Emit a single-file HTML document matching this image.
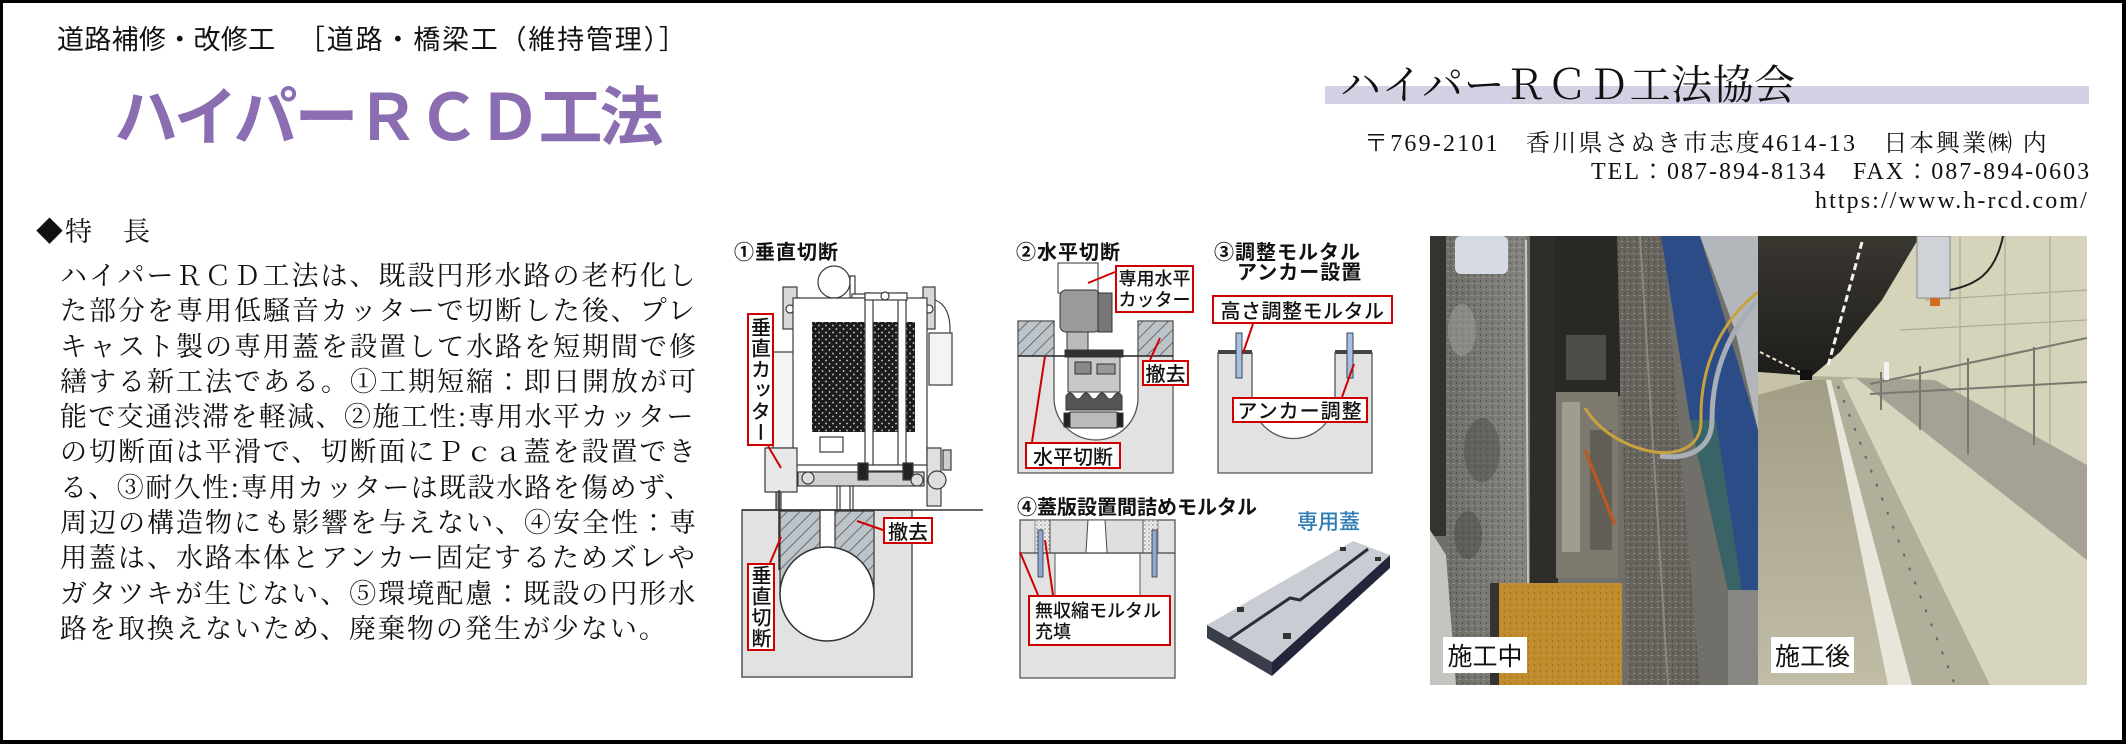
<!DOCTYPE html>
<html lang="ja">
<head>
<meta charset="utf-8">
<style>
  html,body{margin:0;padding:0;background:#fff;}
  #p{position:relative;width:2126px;height:744px;overflow:hidden;background:#fff;}
  .frame{position:absolute;left:0;top:0;width:2126px;height:744px;box-sizing:border-box;
    border-style:solid;border-color:#000;border-width:3px 4px 4px 3px;z-index:10;pointer-events:none;}
  .t{position:absolute;white-space:nowrap;line-height:1;}
  .goth{font-family:"Liberation Sans","Noto Sans CJK JP",sans-serif;}
  .min{font-family:"Liberation Serif","Noto Serif CJK SC",serif;}
  .lb{position:absolute;box-sizing:border-box;border:2px solid #d00000;background:#fff;
    font-family:"Noto Sans CJK JP","Liberation Sans",sans-serif;font-weight:500;color:#111;
    display:flex;align-items:center;justify-content:center;line-height:1;white-space:nowrap;z-index:3;}
  .vt{writing-mode:vertical-rl;}
  .hd{position:absolute;white-space:nowrap;line-height:1;font-family:"Noto Sans CJK JP","Liberation Sans",sans-serif;
    font-weight:700;font-size:20px;letter-spacing:1px;color:#111;z-index:3;}
  .body{position:absolute;left:60px;top:256px;font-family:"Noto Serif CJK SC","Liberation Serif",serif;
    font-size:27px;line-height:35.3px;letter-spacing:2px;color:#111;white-space:nowrap;}
  .ph{position:absolute;background:#fff;font-family:"Noto Sans CJK JP",sans-serif;font-size:25px;line-height:1;
    color:#111;display:flex;align-items:center;justify-content:center;z-index:3;}
</style>
</head>
<body>
<div id="p">

<!-- header left -->
<div class="t goth" style="left:57px;top:27px;font-size:27px;letter-spacing:0.3px;color:#111;">道路補修・改修工</div>
<div class="t goth" style="left:298px;top:27px;font-size:27px;letter-spacing:1.8px;color:#111;">［道路・橋梁工（維持管理）］</div>
<div class="t" style="left:114px;top:81px;font-family:'Noto Sans CJK JP',sans-serif;font-weight:700;font-size:64px;letter-spacing:-3px;color:#8b6db1;">ハイパーＲＣＤ工法</div>

<!-- header right -->
<div style="position:absolute;left:1325px;top:86px;width:764px;height:18px;background:#d4cfe3;"></div>
<div class="t" style="left:1340px;top:61px;font-family:'Noto Serif CJK SC',serif;font-size:41px;letter-spacing:0.5px;color:#111;">ハイパーＲＣＤ工法協会</div>
<div class="t min" style="left:1364px;top:132px;font-size:24px;letter-spacing:2.2px;color:#111;">〒769-2101　香川県さぬき市志度4614-13　日本興業㈱ 内</div>
<div class="t min" style="left:1591px;top:160px;font-size:24px;letter-spacing:2px;color:#111;">TEL：087-894-8134　FAX：087-894-0603</div>
<div class="t min" style="left:1815px;top:189px;font-size:24px;letter-spacing:2.1px;color:#111;">https://www.h-rcd.com/</div>

<!-- left body -->
<div class="t" style="left:36px;top:216px;font-family:'Noto Serif CJK SC',serif;font-size:27px;letter-spacing:2px;color:#111;">◆特　長</div>
<div class="body">
<div>ハイパーＲＣＤ工法は、既設円形水路の老朽化し</div>
<div>た部分を専用低騒音カッターで切断した後、プレ</div>
<div>キャスト製の専用蓋を設置して水路を短期間で修</div>
<div>繕する新工法である。①工期短縮：即日開放が可</div>
<div style="letter-spacing:1.4px;">能で交通渋滞を軽減、②施工性:専用水平カッター</div>
<div>の切断面は平滑で、切断面にＰｃａ蓋を設置でき</div>
<div style="letter-spacing:1.4px;">る、③耐久性:専用カッターは既設水路を傷めず、</div>
<div>周辺の構造物にも影響を与えない、④安全性：専</div>
<div>用蓋は、水路本体とアンカー固定するためズレや</div>
<div>ガタツキが生じない、⑤環境配慮：既設の円形水</div>
<div>路を取換えないため、廃棄物の発生が少ない。</div>
</div>

<!-- graphics -->
<svg width="2126" height="744" viewBox="0 0 2126 744" style="position:absolute;left:0;top:0;z-index:1;" xmlns="http://www.w3.org/2000/svg">
<defs>
  <pattern id="hatch" width="9" height="9" patternUnits="userSpaceOnUse" patternTransform="rotate(45)">
    <rect width="9" height="9" fill="#bcc4ca"/>
    <line x1="0" y1="0" x2="0" y2="9" stroke="#4a4a4a" stroke-width="1.4"/>
  </pattern>
  <pattern id="mesh" width="7" height="7" patternUnits="userSpaceOnUse">
    <rect width="7" height="7" fill="#fff"/>
    <circle cx="0" cy="0" r="2.9" fill="#1c1c1c"/><circle cx="7" cy="0" r="2.9" fill="#1c1c1c"/>
    <circle cx="0" cy="7" r="2.9" fill="#1c1c1c"/><circle cx="7" cy="7" r="2.9" fill="#1c1c1c"/>
    <circle cx="3.5" cy="3.5" r="2.9" fill="#1c1c1c"/>
  </pattern>
  <pattern id="speck" width="4" height="4" patternUnits="userSpaceOnUse">
    <rect width="4" height="4" fill="#ececec"/>
    <circle cx="1" cy="1" r="0.7" fill="#777"/><circle cx="3" cy="3" r="0.5" fill="#999"/>
  </pattern>
  <pattern id="grain" width="6" height="6" patternUnits="userSpaceOnUse">
    <rect width="6" height="6" fill="none"/>
    <rect x="1" y="1" width="2" height="1" fill="#b0aea6" opacity=".6"/>
    <rect x="4" y="4" width="1" height="2" fill="#3a3934" opacity=".6"/>
  </pattern>
  <linearGradient id="ceil" x1="0" y1="0" x2="0" y2="1">
    <stop offset="0" stop-color="#3a3731"/><stop offset="1" stop-color="#1e1d1a"/>
  </linearGradient>
  <linearGradient id="floor" x1="0" y1="0" x2="0" y2="1">
    <stop offset="0" stop-color="#a29e86"/><stop offset="1" stop-color="#c0bca6"/>
  </linearGradient>
  <linearGradient id="conc" x1="0" y1="0" x2="1" y2="0">
    <stop offset="0" stop-color="#6e6d68"/><stop offset="1" stop-color="#85847e"/>
  </linearGradient>
  <clipPath id="ph1"><rect x="1430" y="236" width="328" height="449"/></clipPath>
  <clipPath id="ph2"><rect x="1758" y="236" width="329" height="449"/></clipPath>
</defs>

<!-- ===== Diagram 1 ===== -->
<g stroke="#3a3a3a" stroke-width="1.2" fill="#fff">
  <circle cx="834" cy="282" r="16"/>
  <rect x="850" y="276" width="5" height="22"/>
  <rect x="852" y="294" width="14" height="4"/>
  <rect x="783" y="287" width="14" height="42" fill="#d8d8d8"/>
  <circle cx="790" cy="309" r="4"/>
  <rect x="923" y="287" width="12" height="42" fill="#d8d8d8"/>
  <circle cx="929" cy="309" r="4"/>
  <rect x="773" y="352" width="22" height="96" fill="#f4f4f4"/>
  <rect x="793" y="298" width="134" height="167"/>
  <rect x="812" y="322" width="103" height="110" fill="url(#mesh)" stroke="none"/>
  <rect x="929" y="333" width="23" height="52" fill="#f4f4f4"/>
  <path d="M935,300 q16,6 15,33" fill="none"/>
  <rect x="765" y="448" width="32" height="44" fill="#e8e8e8"/>
  <rect x="865" y="293" width="8" height="180"/>
  <rect x="898" y="293" width="8" height="180"/>
  <rect x="865" y="293" width="42" height="7"/>
  <circle cx="885" cy="296" r="4"/>
  <rect x="820" y="437" width="23" height="15"/>
  <rect x="798" y="472" width="126" height="14" fill="#d0d0d0"/>
  <rect x="868" y="465" width="35" height="6"/>
  <rect x="858" y="463" width="10" height="17" fill="#222"/>
  <rect x="903" y="463" width="10" height="17" fill="#222"/>
  <circle cx="808" cy="478" r="6" fill="#ddd"/>
  <circle cx="917" cy="480" r="6" fill="#ddd"/>
  <rect x="927" y="448" width="14" height="58" fill="#e0e0e0"/>
  <circle cx="937" cy="480" r="9" fill="#ddd"/>
  <rect x="943" y="450" width="8" height="20" fill="#ccc"/>
  <rect x="837" y="486" width="3" height="24"/>
  <rect x="850" y="486" width="3" height="24"/>
  <rect x="776" y="492" width="5" height="18" fill="#999"/>
</g>
<rect x="742" y="510" width="170" height="167" fill="#e2e2e2" stroke="#555" stroke-width="1.5"/>
<line x1="742" y1="510" x2="983" y2="510" stroke="#333" stroke-width="1.5"/>
<rect x="820" y="511" width="15" height="38" fill="#fff"/>
<path d="M780,511 L820,511 L820,547.5 A47,47 0 0 0 780,594 Z" fill="url(#hatch)" stroke="#333" stroke-width="1.2"/>
<path d="M835,511 L874,511 L874,594 A47,47 0 0 0 835,547.7 Z" fill="url(#hatch)" stroke="#333" stroke-width="1.2"/>
<circle cx="827" cy="594" r="47" fill="#fff" stroke="#333" stroke-width="1.5"/>
<line x1="779" y1="490" x2="779" y2="570" stroke="#333" stroke-width="1.5"/>

<!-- ===== Diagram 2 ===== -->
<path d="M1018,321 L1054,321 L1054,398 A42,42 0 0 0 1138,398 L1138,321 L1173,321 L1173,473 L1018,473 Z" fill="#e2e2e2" stroke="#555" stroke-width="1.3"/>
<rect x="1018" y="321" width="36" height="35" fill="url(#hatch)" stroke="#444"/>
<rect x="1138" y="321" width="35" height="35" fill="url(#hatch)" stroke="#444"/>
<line x1="1018" y1="356" x2="1173" y2="356" stroke="#222" stroke-width="1.5"/>
<g stroke="#333" stroke-width="1">
  <rect x="1058" y="263" width="40" height="30" fill="#fff"/>
  <rect x="1060" y="290" width="40" height="42" rx="6" fill="#9a9a9a"/>
  <rect x="1098" y="293" width="14" height="39" fill="#777"/>
  <rect x="1067" y="332" width="21" height="20" fill="#bbb"/>
  <rect x="1065" y="350" width="58" height="7" fill="#333"/>
  <rect x="1068" y="357" width="52" height="35" fill="#c8c8c8"/>
  <rect x="1075" y="362" width="16" height="12" fill="#888"/>
  <rect x="1097" y="364" width="18" height="10" fill="#999"/>
  <path d="M1066,396 q4,-6 8,0 q4,6 8,0 q4,-6 8,0 q4,6 8,0 q4,-6 8,0 q4,6 8,0 q4,-6 8,0 v14 h-56 z" fill="#555"/>
  <rect x="1067" y="412" width="53" height="16" rx="4" fill="#bbb"/>
  <rect x="1064" y="413" width="6" height="14" fill="#222"/>
  <rect x="1117" y="413" width="6" height="14" fill="#222"/>
</g>

<!-- ===== Diagram 3 ===== -->
<path d="M1218,353 L1252,353 L1252,397 A41.5,41.5 0 0 0 1335,397 L1335,353 L1372,353 L1372,473 L1218,473 Z" fill="#e2e2e2" stroke="#555" stroke-width="1.3"/>
<rect x="1218" y="350" width="34" height="4" fill="#444"/>
<rect x="1335" y="350" width="37" height="4" fill="#444"/>
<rect x="1236" y="333" width="6" height="45" fill="#a8c0e0" stroke="#345" stroke-width="1"/>
<rect x="1347" y="333" width="6" height="45" fill="#a8c0e0" stroke="#345" stroke-width="1"/>

<!-- ===== Diagram 4 ===== -->
<rect x="1020" y="520" width="155" height="158" fill="#e2e2e2" stroke="#555" stroke-width="1.3"/>
<rect x="1035" y="520" width="15" height="33" fill="url(#speck)" stroke="#777" stroke-width=".8"/>
<rect x="1143" y="520" width="15" height="33" fill="url(#speck)" stroke="#777" stroke-width=".8"/>
<polygon points="1050,520 1088,520 1086,553 1050,553" fill="#dedede" stroke="#555"/>
<polygon points="1105,520 1143,520 1143,553 1107,553" fill="#dedede" stroke="#555"/>
<polygon points="1088,520 1105,520 1107,553 1086,553" fill="#fff" stroke="#555"/>
<line x1="1020" y1="553" x2="1175" y2="553" stroke="#444" stroke-width="1.2"/>
<rect x="1055" y="554" width="85" height="42" fill="#fff"/>
<line x1="1055" y1="553" x2="1055" y2="596" stroke="#555"/>
<line x1="1140" y1="553" x2="1140" y2="596" stroke="#555"/>
<rect x="1038" y="530" width="5" height="47" fill="#8fa8d0" stroke="#334" stroke-width=".8"/>
<rect x="1152" y="530" width="5" height="47" fill="#8fa8d0" stroke="#334" stroke-width=".8"/>

<!-- ===== Lid slab ===== -->
<polygon points="1207,625 1272,662 1272,676 1207,638" fill="#3a3d4a"/>
<polygon points="1272,662 1390,555 1390,568 1272,676" fill="#23263a"/>
<polygon points="1207,625 1353,541 1390,555 1272,662" fill="#c9ccd2"/>
<polyline points="1228,640 1290,598 1300,600 1368,549" stroke="#2a2d3a" stroke-width="3" fill="none"/>
<rect x="1237" y="607" width="7" height="5" fill="#333"/>
<rect x="1283" y="633" width="8" height="6" fill="#333"/>
<rect x="1340" y="547" width="6" height="4" fill="#333"/>
<rect x="1375" y="557" width="6" height="4" fill="#333"/>

<!-- ===== Red leaders ===== -->
<g stroke="#d00000" stroke-width="2">
  <line x1="768" y1="446" x2="781" y2="468"/>
  <line x1="883" y1="530" x2="857" y2="521"/>
  <line x1="770" y1="563" x2="781" y2="537"/>
  <line x1="1115" y1="272" x2="1088" y2="283"/>
  <line x1="1150" y1="360" x2="1160" y2="338"/>
  <line x1="1032" y1="442" x2="1045" y2="356"/>
  <line x1="1253" y1="324" x2="1243" y2="353"/>
  <line x1="1342" y1="397" x2="1354" y2="364"/>
  <line x1="1038" y1="595" x2="1020" y2="552"/>
  <line x1="1053" y1="595" x2="1045" y2="540"/>
</g>

<!-- ===== Photo 1 ===== -->
<g clip-path="url(#ph1)">
  <rect x="1430" y="236" width="328" height="449" fill="#706f69"/>
  <rect x="1446" y="236" width="80" height="449" fill="url(#conc)"/>
  <rect x="1446" y="236" width="80" height="449" fill="url(#grain)"/>
  <ellipse cx="1482" cy="450" rx="18" ry="32" fill="#4e4d48" opacity=".5"/>
  <ellipse cx="1468" cy="535" rx="14" ry="24" fill="#4a4944" opacity=".5"/>
  <ellipse cx="1462" cy="330" rx="14" ry="26" fill="#a3a29c" opacity=".5"/>
  <rect x="1430" y="236" width="16" height="300" fill="#34332f"/>
  <polygon points="1430,530 1446,555 1456,685 1430,685" fill="#c4c4c0"/>
  <line x1="1526" y1="240" x2="1528" y2="590" stroke="#c8c8c0" stroke-width="2"/>
  <rect x="1530" y="236" width="28" height="350" fill="#2f2d29"/>
  <rect x="1555" y="236" width="65" height="160" fill="#2a2825"/>
  <rect x="1566" y="335" width="40" height="45" fill="#4e4c47"/>
  <rect x="1556" y="392" width="62" height="186" fill="#7d796f"/>
  <rect x="1562" y="402" width="18" height="150" fill="#a09c91"/>
  <rect x="1590" y="430" width="22" height="120" fill="#625f57"/>
  <line x1="1585" y1="450" x2="1615" y2="525" stroke="#c0581e" stroke-width="3"/>
  <polygon points="1617,236 1663,236 1700,685 1628,685" fill="#67655e"/>
  <polygon points="1617,236 1663,236 1700,685 1628,685" fill="url(#grain)"/>
  <line x1="1640" y1="236" x2="1668" y2="685" stroke="#8a8880" stroke-width="2"/>
  <polygon points="1661,236 1700,236 1758,430 1758,590 1728,590 1690,420" fill="#2b4c86"/>
  <polygon points="1690,420 1716,420 1742,590 1728,590" fill="#3d6b5c" opacity=".75"/>
  <polygon points="1700,236 1758,236 1758,430 1735,330" fill="#b3b6ba"/>
  <rect x="1728" y="590" width="30" height="95" fill="#878682"/>
  <rect x="1490" y="583" width="9" height="102" fill="#35332f"/>
  <rect x="1499" y="583" width="123" height="102" fill="#c28b2c"/>
  <rect x="1499" y="583" width="123" height="102" fill="url(#grain)" opacity=".5"/>
  <rect x="1455" y="236" width="53" height="38" rx="6" fill="#d6dbe3"/>
  <path d="M1758,300 C1730,330 1712,370 1712,420 C1712,448 1690,460 1660,456" stroke="#a8aeb6" stroke-width="5" fill="none"/>
  <path d="M1758,292 C1725,318 1700,360 1701,420 C1702,448 1675,458 1645,450 C1615,442 1595,425 1585,408" stroke="#c9a23e" stroke-width="3" fill="none"/>
</g>

<!-- ===== Photo 2 ===== -->
<g clip-path="url(#ph2)">
  <rect x="1758" y="236" width="329" height="449" fill="#b3af99"/>
  <polygon points="1920,236 2087,236 2087,470 1935,380 1812,376 1840,352 1882,300" fill="#d6d3bb"/>
  <g stroke="#aeab94" stroke-width="1.2">
    <line x1="1960" y1="236" x2="1960" y2="405"/>
    <line x1="2005" y1="236" x2="2005" y2="425"/>
    <line x1="2050" y1="236" x2="2050" y2="450"/>
    <line x1="1925" y1="300" x2="2087" y2="290"/>
    <line x1="1900" y1="330" x2="2087" y2="320"/>
  </g>
  <polygon points="1758,236 1920,236 1882,300 1840,352 1812,376 1758,372" fill="url(#ceil)"/>
  <line x1="1862" y1="242" x2="1828" y2="366" stroke="#f4f4ee" stroke-width="3" stroke-dasharray="7 4"/>
  <line x1="1760" y1="352" x2="1800" y2="372" stroke="#e8e6d0" stroke-width="2" stroke-dasharray="4 3"/>
  <polygon points="1758,372 1812,376 1812,388 1758,395" fill="#c7c3a8"/>
  <polygon points="1758,395 1812,380 1830,380 1905,685 1758,685" fill="url(#floor)"/>
  <polygon points="1826,380 1831,380 1912,685 1888,685" fill="#e8e6da"/>
  <polygon points="1831,380 1842,380 1990,685 1912,685" fill="#b1ae99"/>
  <line x1="1838" y1="386" x2="1955" y2="685" stroke="#666" stroke-width="2" stroke-dasharray="3 12"/>
  <polygon points="1842,380 1856,378 2087,560 2087,685 1990,685" fill="#d8d5bf"/>
  <polygon points="1856,378 1935,380 2087,465 2087,560" fill="#a5a295"/>
  <g stroke="#7a786e" stroke-width="2">
    <line x1="1870" y1="384" x2="2087" y2="338"/>
    <line x1="1870" y1="394" x2="2087" y2="382"/>
    <line x1="1881" y1="372" x2="1881" y2="410"/>
    <line x1="1920" y1="366" x2="1920" y2="430"/>
    <line x1="1968" y1="358" x2="1968" y2="455"/>
    <line x1="2034" y1="347" x2="2034" y2="445"/>
  </g>
  <rect x="1884" y="362" width="5" height="18" fill="#f2f2f2"/>
  <rect x="1917" y="236" width="33" height="62" fill="#cfd2d6" stroke="#888"/>
  <rect x="1930" y="298" width="10" height="8" fill="#d46a20"/>
  <path d="M1950,290 C1975,285 1995,275 2003,236" stroke="#222" stroke-width="2" fill="none"/>
  <rect x="1800" y="370" width="12" height="10" fill="#111"/>
</g>
</svg>

<!-- diagram headings -->
<div class="hd" style="left:734px;top:241px;">①垂直切断</div>
<div class="hd" style="left:1016px;top:241px;">②水平切断</div>
<div class="hd" style="left:1214px;top:241px;">③調整モルタル</div>
<div class="hd" style="left:1237px;top:261px;">アンカー設置</div>
<div class="hd" style="left:1017px;top:496px;letter-spacing:0px;">④蓋版設置間詰めモルタル</div>
<div class="t" style="left:1297px;top:511px;font-family:'Noto Sans CJK JP',sans-serif;font-size:21px;font-weight:500;color:#2f7db6;z-index:3;">専用蓋</div>

<!-- red boxed labels -->
<div class="lb vt" style="left:747px;top:313px;width:27px;height:133px;font-size:20px;letter-spacing:1px;">垂直カッター</div>
<div class="lb" style="left:883px;top:517px;width:50px;height:27px;font-size:20px;">撤去</div>
<div class="lb vt" style="left:747px;top:563px;width:28px;height:88px;font-size:20px;letter-spacing:1px;">垂直切断</div>
<div class="lb" style="left:1115px;top:265px;width:79px;height:48px;font-size:18px;line-height:21px;flex-direction:column;">
  <span>専用水平</span><span>カッター</span></div>
<div class="lb" style="left:1142px;top:360px;width:47px;height:26px;font-size:20px;">撤去</div>
<div class="lb" style="left:1025px;top:442px;width:96px;height:27px;font-size:20px;">水平切断</div>
<div class="lb" style="left:1212px;top:295px;width:181px;height:29px;font-size:20px;letter-spacing:0.5px;">高さ調整モルタル</div>
<div class="lb" style="left:1232px;top:397px;width:136px;height:26px;font-size:20px;letter-spacing:1px;">アンカー調整</div>
<div class="lb" style="left:1028px;top:595px;width:143px;height:51px;font-size:18px;line-height:21px;flex-direction:column;align-items:flex-start;padding-left:5px;">
  <span>無収縮モルタル</span><span>充填</span></div>

<!-- photo labels -->
<div class="ph" style="left:1443px;top:637px;width:84px;height:36px;">施工中</div>
<div class="ph" style="left:1771px;top:637px;width:83px;height:36px;">施工後</div>

<div class="frame"></div>
</div>
</body>
</html>
